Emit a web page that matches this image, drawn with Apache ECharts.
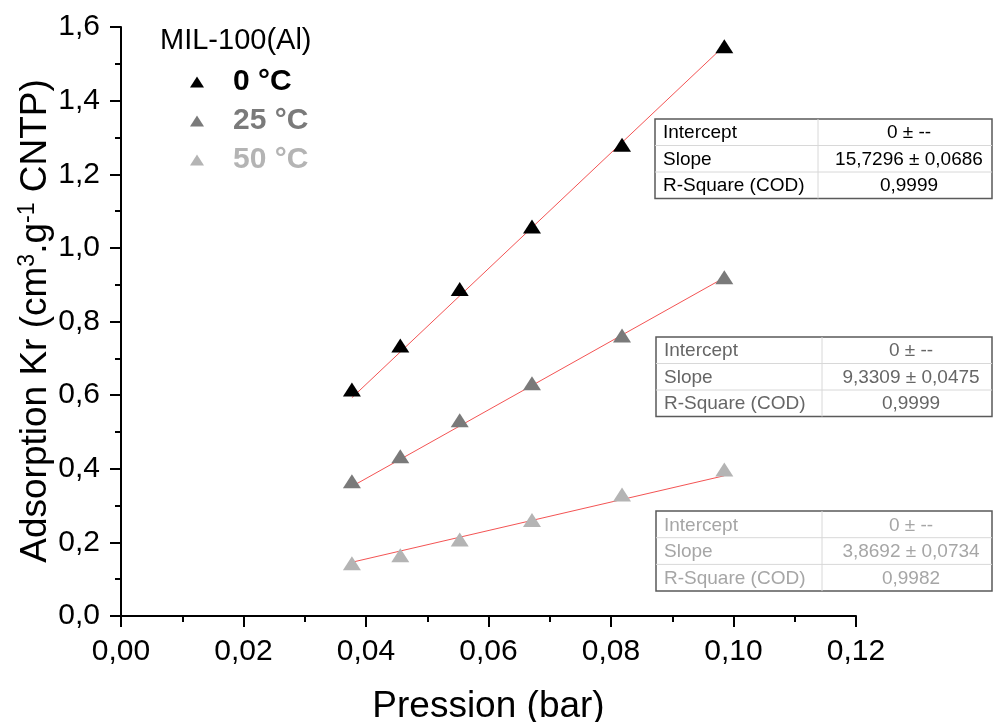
<!DOCTYPE html>
<html><head><meta charset="utf-8">
<script src="https://cdn.jsdelivr.net/npm/echarts@6/dist/echarts.min.js"></script>
<style>html,body{margin:0;padding:0;background:#fff}#c{width:994px;height:722px}</style>
</head><body><div id="c"></div>
<script>
// ---- data ----
const pressure = [0.0377, 0.0456, 0.0553, 0.0671, 0.0818, 0.0985];
const ads0  = [0.615, 0.735, 0.888, 1.058, 1.280, 1.548];
const ads25 = [0.366, 0.434, 0.532, 0.632, 0.762, 0.920];
const ads50 = [0.143, 0.165, 0.208, 0.261, 0.330, 0.398];
const fitX  = [0.0377, 0.0985];
const fit0  = [0.593, 1.549];
const fit25 = [0.352, 0.919];
const fit50 = [0.146, 0.381];
const seriesNames = ['0 °C', '25 °C', '50 °C'];
const legendTitle = 'MIL-100(Al)';
const tableLabels = ['Intercept', 'Slope', 'R-Square (COD)'];
const table0  = ['0 ± --', '15,7296 ± 0,0686', '0,9999'];
const table25 = ['0 ± --', '9,3309 ± 0,0475', '0,9999'];
const table50 = ['0 ± --', '3,8692 ± 0,0734', '0,9982'];
const xTitle = 'Pression (bar)';

// ---- styles ----
const colors = ['#000000', '#7a7a7a', '#b4b4b4'];
const tableText = ['#000000', '#666666', '#a6a6a6'];
const FONT = '"Liberation Sans", Arial, sans-serif';

const pts = arr => pressure.map((x, i) => [x, arr[i]]);
const fitPts = arr => fitX.map((x, i) => [x, arr[i]]);

function makeTable(x, y, w, colX, rowH, vals, tc) {
  const els = [];
  const h = rowH * 3;
  els.push({type:'rect', shape:{x:x, y:y, width:w, height:h}, style:{fill:'#fff', stroke:'#5a5a5a', lineWidth:1.5}, z:10});
  for (let r = 1; r < 3; r++) {
    els.push({type:'line', shape:{x1:x, y1:y + r*rowH, x2:x + w, y2:y + r*rowH}, style:{stroke:'#d8d8d8', lineWidth:1}, z:11});
  }
  els.push({type:'line', shape:{x1:colX, y1:y, x2:colX, y2:y + h}, style:{stroke:'#d8d8d8', lineWidth:1}, z:11});
  for (let r = 0; r < 3; r++) {
    els.push({type:'text', x:x + 8, y:y + r*rowH + rowH/2 + 1, style:{text:tableLabels[r], fill:tc, font:'19px ' + FONT, textVerticalAlign:'middle', verticalAlign:'middle'}, z:12});
    els.push({type:'text', x:(colX + x + w)/2 + 4, y:y + r*rowH + rowH/2 + 1, style:{text:vals[r], fill:tc, font:'19px ' + FONT, textAlign:'center', align:'center', verticalAlign:'middle', textVerticalAlign:'middle'}, z:12});
  }
  return els;
}

const chart = echarts.init(document.getElementById('c'), null, {renderer:'canvas'});
const fmt = d => v => v.toFixed(d).replace('.', ',');

const option = {
  backgroundColor:'#fff',
  animation:false,
  grid:{left:121, right:138, top:27, bottom:106, containLabel:false, outerBoundsMode:'none'},
  xAxis:{
    type:'value', min:0, max:0.12, interval:0.02,
    axisLine:{lineStyle:{color:'#000', width:2}},
    axisTick:{length:11, lineStyle:{color:'#000', width:2}},
    minorTick:{show:true, splitNumber:2, length:6, lineStyle:{color:'#000', width:2}},
    splitLine:{show:false},
    axisLabel:{formatter:fmt(2), color:'#000', fontSize:30, fontFamily:FONT, margin:21},
    name:xTitle, nameLocation:'middle', nameGap:72,
    nameTextStyle:{color:'#000', fontSize:37, fontFamily:FONT}
  },
  yAxis:{
    type:'value', min:0, max:1.6, interval:0.2,
    axisLine:{show:true, lineStyle:{color:'#000', width:2}},
    axisTick:{show:true, length:11, lineStyle:{color:'#000', width:2}},
    minorTick:{show:true, splitNumber:2, length:6, lineStyle:{color:'#000', width:2}},
    splitLine:{show:false},
    axisLabel:{formatter:fmt(1), color:'#000', fontSize:30, fontFamily:FONT, margin:21}
  },
  legend:{
    orient:'vertical', left:185, top:62, itemGap:9,
    icon:'triangle', itemWidth:14, itemHeight:11,
    data:[
      {name:seriesNames[0], textStyle:{color:colors[0]}},
      {name:seriesNames[1], textStyle:{color:colors[1]}},
      {name:seriesNames[2], textStyle:{color:colors[2]}}
    ],
    textStyle:{fontSize:30, fontWeight:'bold', fontFamily:FONT, padding:[0,0,0,24]}
  },
  series:[
    {name:'fit0', type:'line', data:fitPts(fit0), symbol:'none', lineStyle:{color:'rgba(240,40,40,0.8)', width:1}, z:1},
    {name:'fit25', type:'line', data:fitPts(fit25), symbol:'none', lineStyle:{color:'rgba(240,40,40,0.8)', width:1}, z:1},
    {name:'fit50', type:'line', data:fitPts(fit50), symbol:'none', lineStyle:{color:'rgba(240,40,40,0.8)', width:1}, z:1},
    {name:seriesNames[0], type:'scatter', data:pts(ads0), symbol:'triangle', symbolSize:[18,14], itemStyle:{color:colors[0], opacity:1}, z:2},
    {name:seriesNames[1], type:'scatter', data:pts(ads25), symbol:'triangle', symbolSize:[18,14], itemStyle:{color:colors[1], opacity:1}, z:2},
    {name:seriesNames[2], type:'scatter', data:pts(ads50), symbol:'triangle', symbolSize:[18,14], itemStyle:{color:colors[2], opacity:1}, z:2}
  ],
  graphic:[
    {type:'text', left:160, top:26, style:{text:legendTitle, fill:'#000', font:'29px ' + FONT}},
    {type:'text', x:36, y:321, rotation:Math.PI/2, style:{
      text:'{n|Adsorption Kr (cm}{s|3}{n|.g}{s|-1}{n| CNTP)}',
      align:'center', verticalAlign:'middle', textAlign:'center', textVerticalAlign:'middle',
      rich:{n:{fontSize:37, fontFamily:FONT, fill:'#000', color:'#000'}, s:{fontSize:23, fontFamily:FONT, fill:'#000', color:'#000', verticalAlign:'top', padding:[0,0,16,0]}}
    }},
    ...makeTable(655, 119, 337, 818, 26.5, table0, tableText[0]),
    ...makeTable(656, 337, 336, 822, 26.5, table25, tableText[1]),
    ...makeTable(656, 511, 336, 822, 26.7, table50, tableText[2])
  ]
};
chart.setOption(option);
</script>
</body></html>
